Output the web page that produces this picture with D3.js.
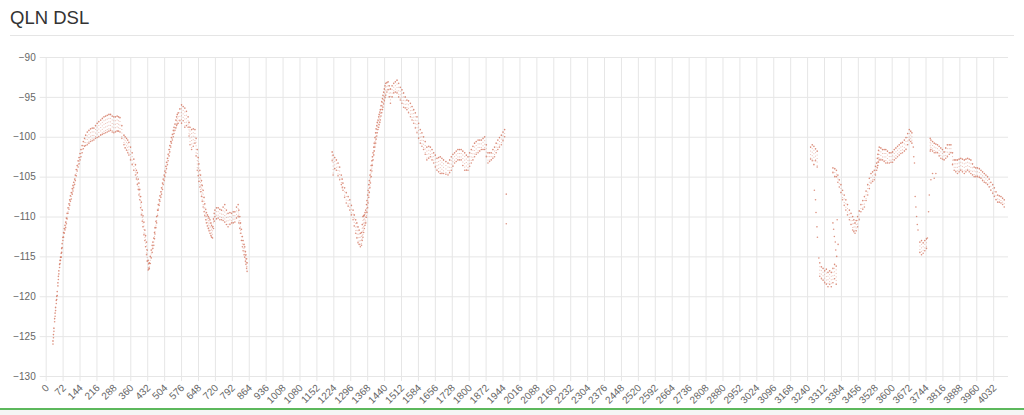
<!DOCTYPE html>
<html>
<head>
<meta charset="utf-8">
<script src="https://cdn.jsdelivr.net/npm/d3@7"></script>
<style>
  html, body { margin: 0; padding: 0; background: #fff; }
  svg { display: block; }
  text { font-family: "Liberation Sans", Arial, Helvetica, sans-serif; }
</style>
</head>
<body>
<svg id="chart" width="1024" height="415"></svg>
<script>
// ---------- data ----------
const chartTitle = "QLN DSL";
const xLabels = [0,72,144,216,288,360,432,504,576,648,720,792,864,936,1008,1080,1152,1224,1296,1368,1440,1512,1584,1656,1728,1800,1872,1944,2016,2088,2160,2232,2304,2376,2448,2520,2592,2664,2736,2808,2880,2952,3024,3096,3168,3240,3312,3384,3456,3528,3600,3672,3744,3816,3888,3960,4032];
const yTicks = [-130,-125,-120,-115,-110,-105,-100,-95,-90];
const xMax = 4095;

// samples: [tone index, upper value, lower value]
const seg1 = [
[31,-125.6,-126.0],[33,-124.8,-125.2],[35,-124.0,-124.4],[38,-122.8,-123.2],[40,-122.1,-122.5],
[42,-121.4,-121.8],[45,-120.5,-120.9],[47,-120.0,-120.4],[49,-119.4,-119.9],[52,-118.3,-118.7],
[54,-117.5,-117.9],[56,-116.8,-117.2],[59,-116.0,-116.4],[61,-115.5,-115.9],[63,-115.1,-115.5],
[66,-114.6,-115.1],[68,-114.0,-114.5],[70,-113.4,-113.9],[73,-112.6,-113.0],[76,-112.0,-112.6],
[79,-111.5,-112.1],[82,-111.1,-111.7],[85,-110.7,-111.4],[88,-110.2,-110.9],[91,-109.6,-110.3],
[95,-108.9,-109.6],[99,-108.4,-109.1],[102,-107.9,-108.6],[105,-107.4,-108.1],[109,-107.0,-107.8],
[113,-106.5,-107.2],[116,-106.1,-106.8],[119,-105.7,-106.4],[123,-105.3,-106.0],[126,-104.8,-105.5],
[130,-104.1,-104.9],[134,-103.6,-104.3],[138,-103.0,-103.8],[142,-102.6,-103.4],[146,-102.1,-102.9],
[150,-101.6,-102.5],[155,-101.1,-102.0],[160,-100.6,-101.5],[165,-100.2,-101.2],[170,-99.8,-101.1],
[177,-99.4,-101.0],[184,-99.2,-100.8],
[191,-99.0,-100.6],[198,-98.9,-100.5],[205,-98.9,-100.4],[212,-98.6,-100.2],[219,-98.3,-100.1],[226,-98.1,-100.0],[234,-97.9,-99.8],[241,-97.7,-99.7],[248,-97.5,-99.6],
[255,-97.4,-99.5],[262,-97.3,-99.4],[269,-97.2,-99.3],[276,-97.2,-99.2],[283,-97.4,-99.4],[290,-97.5,-99.5],[297,-97.5,-99.4],[304,-97.4,-99.3],[310,-97.5,-99.3],[316,-97.6,-99.4],
[324,-98.6,-100.2],[333,-99.8,-101.0],[338,-100.0,-101.4],[344,-100.2,-101.7],[349,-100.4,-102.0],[354,-100.7,-102.3],[361,-101.3,-102.9],[368,-102.0,-103.5],[375,-102.8,-104.2],[382,-103.5,-104.8],
[386,-104.2,-105.3],[390,-104.5,-106.0],[394,-105.3,-106.6],[397,-105.8,-107.3],[400,-106.6,-107.9],
[404,-107.5,-108.9],[407,-108.2,-109.8],[411,-109.2,-110.6],[414,-109.9,-111.3],[418,-110.7,-112.3],
[422,-111.7,-113.0],[425,-112.4,-113.8],[429,-113.2,-114.8],[432,-114.2,-115.6],[436,-115.5,-116.7],
[439,-115.9,-116.6],[441,-115.8,-116.5],[445,-115.0,-115.9],[449,-114.2,-115.2],[453,-113.6,-114.5],
[456,-113.2,-114.0],[460,-112.7,-113.6],[463,-112.0,-112.8],[465,-111.4,-112.2],[469,-110.6,-111.4],
[472,-110.0,-110.8],[476,-109.2,-109.9],[479,-108.5,-109.2],[483,-107.9,-108.6],[486,-107.4,-108.1],
[490,-106.9,-107.6],[493,-106.4,-107.2],[497,-105.8,-106.6],[500,-105.3,-106.0],[504,-104.8,-105.5],
[507,-104.3,-105.0],[511,-103.7,-104.5],[514,-103.2,-104.0],[518,-102.7,-103.5],[521,-102.2,-103.0],
[525,-101.6,-102.4],[528,-101.1,-101.9],[532,-100.6,-101.3],[535,-100.1,-100.8],[539,-99.7,-100.4],
[543,-99.2,-100.0],[546,-98.8,-99.6],[550,-98.4,-99.2],[554,-97.9,-98.9],[557,-97.5,-98.6],
[560,-97.2,-98.4],[564,-97.0,-98.3],[571,-96.5,-98.0],[578,-96.0,-98.3],
[585,-96.2,-98.0],[592,-96.4,-98.8],[599,-96.8,-98.6],[606,-97.5,-98.8],[610,-98.2,-99.9],[614,-98.8,-101.0],
[621,-99.1,-101.6],[628,-99.0,-101.2],[635,-99.1,-100.8],[640,-100.2,-102.4],[645,-101.6,-104.2],
[649,-102.6,-104.9],[652,-103.4,-105.6],[656,-104.2,-106.3],[659,-104.8,-106.9],[663,-105.5,-107.5],
[666,-106.1,-108.1],[670,-106.7,-108.8],[674,-107.6,-109.4],[677,-108.4,-109.9],[681,-109.1,-110.4],
[684,-109.5,-110.8],[688,-109.8,-111.2],[692,-110.0,-111.5],[695,-110.2,-111.8],[699,-110.4,-112.1],
[703,-110.8,-112.4],[706,-111.1,-112.6],[710,-111.3,-112.7],[714,-110.3,-111.5],[717,-109.6,-110.6],
[720,-109.2,-110.0],[727,-108.9,-110.3],[734,-108.9,-110.2],[741,-109.1,-110.4],
[748,-109.2,-110.4],[755,-108.8,-110.5],[762,-108.5,-110.7],[769,-109.2,-111.0],[776,-109.6,-111.3],
[784,-109.5,-111.0],[791,-109.6,-110.8],[798,-109.4,-110.8],[805,-109.4,-110.7],[812,-108.8,-110.2],
[819,-108.5,-110.0],[822,-109.2,-110.8],[826,-110.0,-111.5],[829,-110.8,-112.1],[833,-111.6,-113.0],
[837,-112.5,-113.8],[840,-113.0,-114.3],[844,-113.5,-114.8],[847,-113.8,-115.1],[850,-114.4,-115.6],
[852,-114.8,-116.0],[855,-115.3,-116.5],[857,-115.8,-116.9]
];

const seg2 = [
[1219,-101.9,-103.0],[1223,-102.3,-104.8],[1230,-102.6,-104.0],[1237,-102.9,-104.2],[1244,-103.3,-104.9],
[1251,-103.8,-105.4],[1258,-104.8,-106.0],[1262,-105.3,-106.4],[1265,-105.8,-106.7],[1272,-106.4,-107.6],[1279,-107.0,-108.3],
[1287,-107.5,-108.7],[1294,-107.9,-109.2],[1301,-108.6,-109.8],[1308,-109.2,-110.4],[1313,-109.8,-111.2],[1319,-110.4,-112.1],
[1324,-110.8,-112.7],[1329,-111.3,-113.3],[1334,-111.7,-113.5],[1339,-112.1,-113.8],
[1344,-112.0,-113.6],[1347,-111.0,-113.0],[1350,-110.0,-112.6],[1353,-109.9,-112.0],[1356,-109.8,-111.5],
[1359,-109.5,-111.1],[1362,-109.2,-110.8],[1365,-108.5,-110.1],[1367,-108.0,-109.5],[1370,-107.3,-108.9],
[1372,-106.7,-108.3],[1375,-106.0,-107.6],[1377,-105.5,-107.0],[1380,-104.8,-106.4],[1382,-104.2,-105.8],
[1385,-103.6,-105.0],[1388,-103.0,-104.3],[1390,-102.5,-103.6],[1393,-102.0,-102.9],[1396,-101.3,-102.3],
[1398,-100.8,-101.8],[1401,-100.1,-101.3],[1404,-99.5,-100.8],[1406,-99.0,-100.3],[1409,-98.6,-99.9],
[1411,-98.2,-99.5],[1414,-97.9,-99.1],[1417,-97.5,-98.8],[1419,-97.2,-98.5],[1422,-96.9,-98.2],
[1424,-96.6,-97.9],[1427,-96.1,-97.4],[1430,-95.6,-97.0],[1433,-95.2,-96.6],[1435,-94.8,-96.3],
[1438,-94.4,-95.9],[1441,-94.0,-95.5],[1444,-93.6,-95.1],[1447,-93.3,-94.8],[1452,-93.2,-94.4],
[1457,-93.1,-94.1],[1462,-93.6,-95.0],[1467,-94.0,-95.8],[1474,-93.6,-95.0],
[1481,-93.3,-94.5],[1488,-93.1,-94.4],[1495,-92.9,-94.5],[1502,-93.3,-95.0],[1509,-93.8,-95.4],
[1516,-94.1,-95.8],[1523,-94.5,-96.3],[1530,-95.0,-96.4],[1537,-95.4,-96.6],[1544,-95.5,-97.0],
[1552,-95.8,-97.5],[1559,-96.2,-97.9],[1566,-96.6,-98.3],[1573,-97.0,-98.9],[1580,-97.5,-99.5],
[1587,-98.3,-100.2],[1594,-99.1,-100.8],[1601,-99.5,-101.2],[1608,-100.0,-101.6],[1615,-100.6,-102.2],
[1622,-101.3,-102.9],[1630,-101.2,-102.7],[1637,-101.3,-102.5],[1644,-101.6,-102.9],[1651,-102.0,-103.3],
[1658,-102.3,-103.8],[1665,-102.7,-104.2],[1672,-102.6,-104.4],[1679,-102.5,-104.6],[1686,-102.7,-104.6],
[1693,-102.9,-104.6],[1703,-103.1,-104.7],[1712,-103.3,-104.8],[1719,-102.9,-104.5],[1726,-102.5,-104.2],
[1733,-102.2,-103.7],[1740,-102.0,-103.3],[1747,-101.8,-103.1],[1754,-101.6,-102.9],[1761,-101.6,-102.9],
[1768,-101.6,-102.9],[1775,-101.8,-103.6],[1783,-102.0,-104.2],[1790,-102.3,-104.2],[1797,-102.5,-104.2],
[1804,-102.0,-103.7],[1811,-101.6,-103.3],[1818,-101.2,-102.9],[1825,-100.8,-102.5],[1832,-100.6,-102.2],
[1840,-100.4,-102.0],[1847,-100.4,-101.8],[1854,-100.4,-101.6],[1861,-100.2,-101.6],[1868,-100.0,-101.6],
[1875,-101.0,-102.5],[1882,-102.0,-103.3],[1889,-102.0,-103.1],[1896,-102.0,-102.9],[1903,-101.6,-102.7],
[1910,-101.3,-102.5],[1917,-100.8,-102.0],[1924,-100.4,-101.6],[1931,-100.1,-101.3],[1939,-99.8,-101.0],
[1946,-99.4,-100.5],[1953,-99.1,-100.0]
];

const seg3 = [
[3255,-101.3,-102.8],[3262,-101.0,-103.0],[3269,-101.2,-103.5],[3276,-101.5,-103.0],[3283,-101.8,-103.8],
[3294,-115.8,-117.5],[3301,-116.3,-117.8],[3308,-116.5,-118.0],[3315,-116.8,-118.3],[3322,-116.6,-118.5],
[3329,-117.0,-118.8],[3336,-116.8,-118.5],[3343,-117.0,-118.8],[3350,-116.5,-118.3],[3357,-116.0,-117.8],
[3364,-116.2,-118.5]
];

const seg4 = [
[3350,-103.9,-104.5],[3358,-104.0,-105.0],[3365,-104.2,-105.0],[3371,-104.8,-105.7],[3377,-105.4,-106.3],[3384,-106.0,-107.0],
[3391,-106.7,-107.9],[3398,-107.3,-108.6],[3405,-107.9,-109.2],[3412,-108.5,-109.8],[3420,-109.2,-110.4],
[3427,-109.6,-111.0],[3434,-110.0,-111.7],[3439,-110.4,-111.9],[3444,-110.8,-112.1],[3449,-110.5,-111.8],[3455,-110.0,-111.3],
[3462,-109.3,-110.4],[3469,-108.5,-109.4],[3477,-108.0,-109.1],[3484,-107.5,-108.8],[3491,-106.8,-108.0],
[3498,-106.0,-107.3],[3505,-105.2,-106.5],[3512,-104.6,-105.8],[3519,-104.4,-105.6],[3526,-104.2,-105.4],
[3531,-103.7,-104.8],[3536,-103.3,-104.2],[3539,-102.7,-103.9],[3541,-102.2,-103.6],[3544,-101.7,-103.2],[3547,-101.3,-102.9],[3554,-101.4,-102.9],
[3561,-101.6,-102.9],[3568,-101.6,-103.1],[3575,-101.6,-103.3],[3582,-101.8,-103.3],[3590,-102.0,-103.3],
[3597,-102.0,-103.2],[3604,-101.9,-103.2],[3611,-101.6,-102.9],[3618,-101.4,-102.7],[3625,-101.2,-102.5],
[3632,-101.0,-102.3],[3639,-100.8,-102.1],[3646,-100.7,-102.0],[3654,-100.4,-101.8],[3661,-100.1,-101.6],
[3668,-99.6,-101.0],[3675,-99.1,-100.4],[3681,-99.3,-100.6],[3686,-99.5,-100.8],
[3720,-113.2,-114.5],[3727,-113.0,-114.8],[3734,-113.3,-114.6],[3741,-113.0,-114.3],[3748,-112.8,-114.0],
[3764,-100.2,-101.8],[3767,-100.4,-101.6],[3774,-100.6,-101.8],[3781,-100.8,-102.0],[3788,-100.9,-102.0],
[3795,-101.0,-102.0],[3802,-101.2,-102.4],[3809,-101.4,-102.7],[3816,-101.6,-102.8],[3823,-101.9,-102.9],
[3830,-101.4,-102.7],[3837,-101.0,-102.5],[3845,-101.0,-102.2],[3852,-101.0,-102.0],[3859,-102.0,-103.5],
[3866,-102.9,-104.2],[3873,-102.9,-104.4],[3880,-102.9,-104.6],[3887,-102.8,-104.4],[3894,-102.7,-104.2],
[3901,-102.8,-104.4],[3909,-102.9,-104.6],[3916,-102.8,-104.4],[3923,-102.7,-104.2],[3930,-102.8,-104.4],
[3937,-102.9,-104.6],[3944,-103.4,-104.8],[3951,-103.8,-105.0],[3958,-103.9,-105.0],[3965,-103.9,-105.0],
[3973,-104.0,-105.1],[3980,-104.2,-105.2],[3987,-104.4,-105.5],[3994,-104.6,-105.7],[4001,-104.8,-105.8],
[4008,-105.0,-106.0],[4015,-105.3,-106.3],[4022,-105.7,-106.7],[4030,-106.0,-107.1],[4037,-106.4,-107.5],
[4044,-106.9,-107.9],[4051,-107.3,-108.2],[4058,-107.4,-108.2],[4065,-107.5,-108.3],[4072,-107.7,-108.5],
[4079,-107.9,-108.8]
];

// isolated points: [tone index, value]
const strays = [
[1960,-107.2],[1960,-110.9],
[3271,-106.7],[3276,-107.9],[3278,-109.5],[3282,-111.3],[3284,-112.6],[3290,-115.2],
[3350,-110.8],[3353,-111.6],[3356,-112.5],[3360,-113.2],[3362,-114.2],[3366,-115.0],[3368,-110.4],[3372,-113.5],
[3692,-101.3],[3694,-102.5],[3697,-103.3],[3700,-107.5],[3703,-108.8],[3706,-110.0],[3709,-111.0],[3712,-111.7],
[3752,-112.7],[3757,-109.4],[3760,-107.3],[3767,-105.4],[3774,-104.6],[3781,-105.2],[3788,-104.6]
];

// ---------- drawing ----------
const svg = d3.select("#chart");
const W = 1024, H = 415;
const plot = {left: 45.7, right: 1008, top: 57, bottom: 376};
const dotColor = "#d2705a";

const x = d3.scaleLinear().domain([0, xMax]).range([plot.left, plot.right]);
const y = d3.scaleLinear().domain([-130, -90]).range([plot.bottom, plot.top]);

// title + separator
svg.append("text").attr("x", 10).attr("y", 24)
  .attr("font-size", 18.5).attr("fill", "#333").text(chartTitle);
svg.append("line").attr("x1", 10).attr("x2", 1014).attr("y1", 35.5).attr("y2", 35.5)
  .attr("stroke", "#e5e5e5").attr("stroke-width", 1);

// footer band
svg.append("rect").attr("x", 0).attr("y", 408).attr("width", W).attr("height", 2).attr("fill", "#5cb85c");
svg.append("rect").attr("x", 0).attr("y", 410).attr("width", W).attr("height", 5).attr("fill", "#f5f5f5");

// y axis with grid
const yAxis = svg.append("g").attr("transform", `translate(${plot.left},0)`)
  .call(d3.axisLeft(y).tickValues(yTicks).tickSize(6).tickPadding(4));
yAxis.select(".domain").remove();
yAxis.selectAll(".tick line").attr("x2", plot.right - plot.left).attr("x1", -6).attr("stroke", "#e6e6e6");
yAxis.selectAll(".tick text").attr("font-size", 10).attr("fill", "#666")
  .attr("font-family", "Liberation Sans, Arial, sans-serif");

// x axis with grid
const xAxis = svg.append("g").attr("transform", `translate(0,${plot.bottom})`)
  .call(d3.axisBottom(x).tickValues(xLabels).tickSize(5).tickFormat(d3.format("d")));
xAxis.select(".domain").remove();
xAxis.selectAll(".tick line").attr("y1", -(plot.bottom - plot.top)).attr("y2", 5).attr("stroke", "#e6e6e6");
xAxis.selectAll(".tick text")
  .attr("font-size", 10).attr("fill", "#666")
  .attr("font-family", "Liberation Sans, Arial, sans-serif")
  .attr("x", 0).attr("y", 0).attr("dy", "0.35em")
  .attr("transform", "translate(1,10) rotate(-45)")
  .style("text-anchor", "end");

// data marks
const dots = svg.append("g");
const allSamples = seg1.concat(seg2, seg3, seg4);
// min-max range per sample, dotted
dots.selectAll("line.rng").data(allSamples).join("line").attr("class", "rng")
  .attr("x1", d => x(d[0])).attr("x2", d => x(d[0]))
  .attr("y1", d => y(d[1])).attr("y2", d => y(d[2]))
  .attr("stroke", dotColor).attr("stroke-width", 1)
  .attr("stroke-dasharray", "0.9 2.6").attr("opacity", 0.45);
dots.selectAll("circle.hi").data(allSamples).join("circle").attr("class", "hi")
  .attr("cx", d => x(d[0])).attr("cy", d => y(d[1])).attr("r", 0.8)
  .attr("fill", dotColor).attr("opacity", 0.75);
dots.selectAll("circle.lo").data(allSamples).join("circle").attr("class", "lo")
  .attr("cx", d => x(d[0])).attr("cy", d => y(d[2])).attr("r", 0.8)
  .attr("fill", dotColor).attr("opacity", 0.75);
dots.selectAll("circle.st").data(strays).join("circle").attr("class", "st")
  .attr("cx", d => x(d[0])).attr("cy", d => y(d[1])).attr("r", 0.8)
  .attr("fill", dotColor).attr("opacity", 0.75);
</script>
</body>
</html>
